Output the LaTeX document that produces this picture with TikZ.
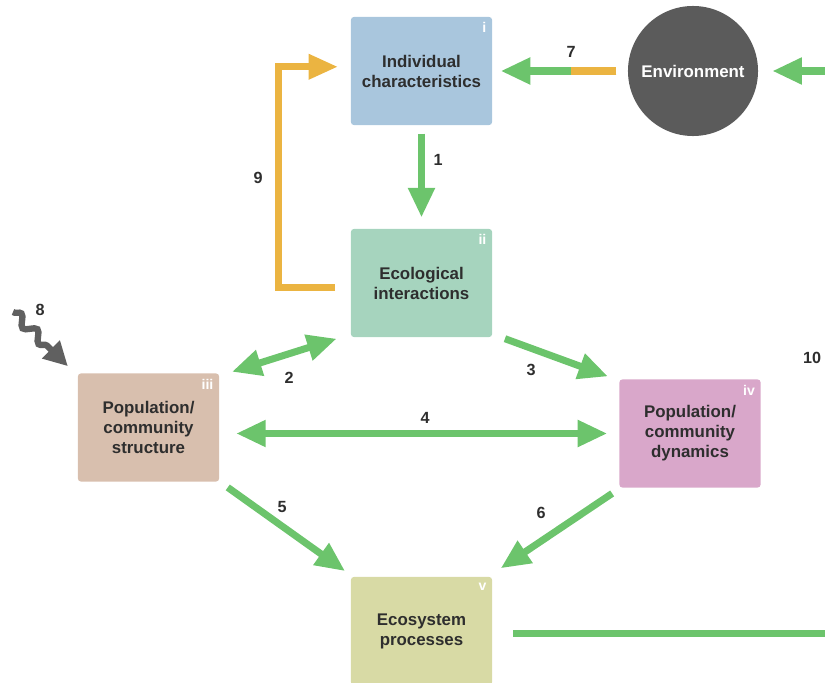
\documentclass[tikz,border=0pt]{standalone}
\usepackage{fontspec}
\setmainfont{Liberation Sans}
\usepackage{tikz}
\usetikzlibrary{arrows.meta}
\usetikzlibrary{decorations.pathmorphing}

\definecolor{indblue}{HTML}{A9C6DD}
\definecolor{ecolgreen}{HTML}{A6D4BE}
\definecolor{strbrown}{HTML}{D8BFAE}
\definecolor{dynpink}{HTML}{D9A7CA}
\definecolor{ecoyellow}{HTML}{D8DAA5}
\definecolor{envgray}{HTML}{5B5B5B}
\definecolor{arrgreen}{HTML}{6CC46C}
\definecolor{arrorange}{HTML}{EBB441}
\definecolor{wavegray}{HTML}{606060}
\definecolor{labelgray}{HTML}{2E2E2E}

\begin{document}
\begin{tikzpicture}[x=0.025cm,y=-0.025cm]

	\tikzset{box/.style={rounded corners=2pt, minimum width=3.525cm, minimum height=2.7cm, inner sep=0pt, align=center, text=labelgray, font=\fontsize{12}{14.2}\selectfont\bfseries}}
	\tikzset{numeral/.style={anchor=north east, inner sep=0pt, xshift=-4pt, yshift=-4pt, text=white, font=\fontsize{10}{12}\selectfont\bfseries}}
	\tikzset{num/.style={text=labelgray, font=\fontsize{11.5}{12}\selectfont\bfseries}}
	\tikzset{garrow/.style={draw=arrgreen, line width=5pt, -{Triangle[length=21pt,width=18pt]}}}
	\tikzset{gdouble/.style={draw=arrgreen, line width=5pt, {Triangle[length=21pt,width=18pt]}-{Triangle[length=21pt,width=18pt]}}}
	\tikzset{oarrow/.style={draw=arrorange, line width=5pt, -{Triangle[length=21pt,width=17pt]}}}
	\tikzset{wave it/.style={draw=wavegray, line width=4.5pt, decorate, decoration={snake, amplitude=3.5pt, segment length=16pt, post length=14pt}, -{Triangle[length=17pt,width=17pt]}}}

	\useasboundingbox (0,0) rectangle (825,683);
	\clip (0,0) rectangle (825,683);

	% boxes
	\node[box,fill=indblue] (indiv) at (421.5,71) {Individual\\characteristics};
	\node[box,fill=ecolgreen] (ecol) at (421.5,283) {Ecological\\interactions};
	\node[box,fill=strbrown] (popstr) at (148.5,427.5) {Population/\\community\\structure};
	\node[box,fill=dynpink] (popdyn) at (690,433.5) {Population/\\community\\dynamics};
	\node[box,fill=ecoyellow] (ecosys) at (421.5,631) {Ecosystem\\processes};

	% environment
	\node[circle, fill=envgray, minimum size=3.25cm, inner sep=0pt, text=white, font=\fontsize{12}{14}\selectfont\bfseries] (env) at (693,71) {Environment};

	% roman numerals
	\node[numeral] (ri) at (indiv.north east) {i};
	\node[numeral] (rii) at (ecol.north east) {ii};
	\node[numeral] (riii) at (popstr.north east) {iii};
	\node[numeral] (riv) at (popdyn.north east) {iv};
	\node[numeral] (rv) at (ecosys.north east) {v};

	% green links
	\draw[garrow, shorten <=6pt, shorten >=8pt] (indiv) -- (ecol);
	\draw[gdouble] ([xshift=9pt,yshift=1pt]popstr.north east) -- ([xshift=-10pt,yshift=-1pt]ecol.south west);
	\draw[garrow] ([xshift=9pt,yshift=-1pt]ecol.south east) -- ([xshift=-8pt,yshift=2pt]popdyn.north west);
	\draw[gdouble, shorten <=12pt, shorten >=8.5pt] (popstr.east |- popdyn.west) -- (popdyn.west);
	\draw[garrow] ([xshift=6pt,yshift=-4pt]popstr.south east) -- ([xshift=-4pt,yshift=4pt]ecosys.north west);
	\draw[garrow] ([xshift=-5pt,yshift=-4pt]popdyn.south west) -- ([xshift=6pt,yshift=6pt]ecosys.north east);

	% environment to individuals
	\draw[garrow, shorten <=8pt, shorten >=6pt] (env.west) -- (indiv.east);
	\draw[draw=arrorange, line width=5pt] ([xshift=-8pt]env.west) -- ([xshift=-40pt]env.west);

	% feedback from interactions
	\draw[oarrow] ([xshift=-11pt,yshift=-3.5pt]ecol.west) -- ++(-57,0) |- ([xshift=-9pt,yshift=3pt]indiv.west);

	% outside driver
	\coordinate (src8) at (13,312);
	\draw[wave it] (src8) -- ([xshift=-7pt,yshift=5pt]popstr.north west);

	% ecosystem back to environment
	\coordinate (c10) at (850,71);
	\draw[garrow, shorten >=10pt] ([xshift=15pt,yshift=-1.5pt]ecosys.east) -| (c10) -- (env.east);

	% link numbers
	\node[num] (n1) at (438,160) {1};
	\node[num] (n2) at (289,378) {2};
	\node[num] (n3) at (531,370) {3};
	\node[num] (n4) at (425,418) {4};
	\node[num] (n5) at (282,507) {5};
	\node[num] (n6) at (541,513) {6};
	\node[num] (n7) at (571,52) {7};
	\node[num] (n8) at (40,310) {8};
	\node[num] (n9) at (258,178) {9};
	\node[num] (n10) at (812,358) {10};

\end{tikzpicture}
\end{document}
